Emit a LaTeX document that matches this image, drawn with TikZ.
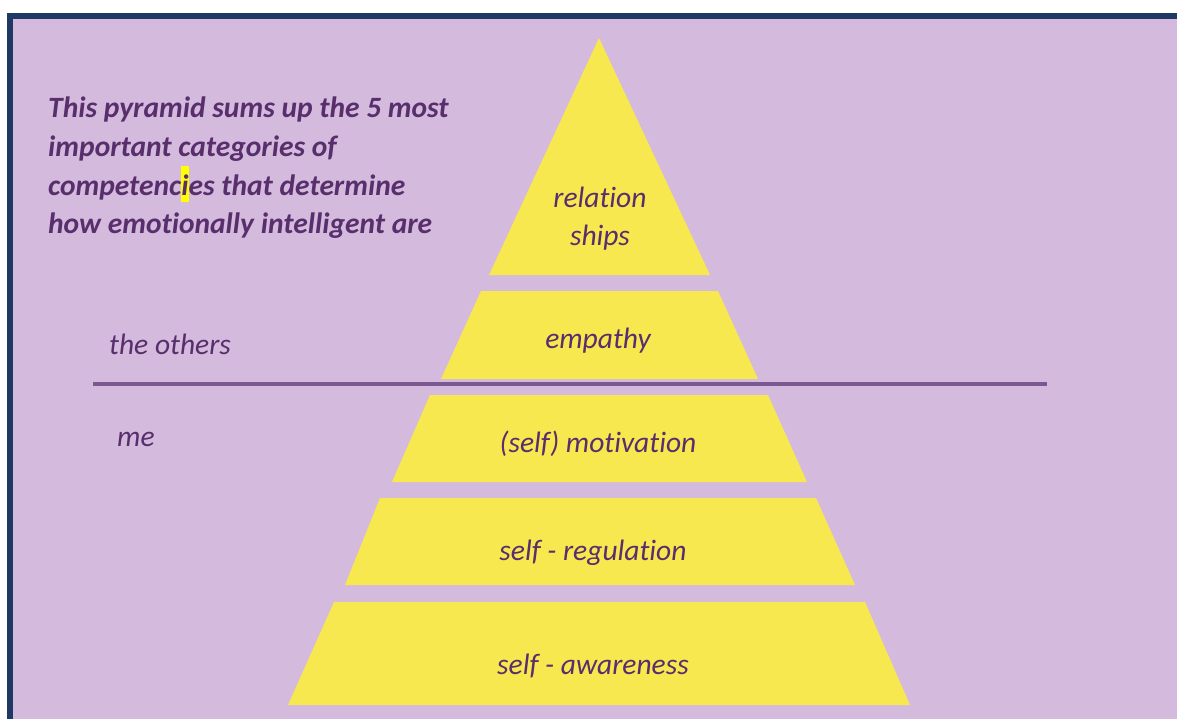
\documentclass[tikz,border=0pt]{standalone}
\usepackage{fontspec}
\setmainfont[Ligatures=NoCommon]{Carlito}
\definecolor{bg}{RGB}{212,186,221}
\definecolor{frame}{RGB}{31,56,100}
\definecolor{pyr}{RGB}{247,232,80}
\definecolor{txt}{RGB}{88,46,108}
\definecolor{sep}{RGB}{124,88,146}
\definecolor{hl}{RGB}{255,255,0}
\begin{document}
\begin{tikzpicture}[x=1pt,y=-1pt,
  layer/.style={fill=pyr,draw=none},
  lab/.style={font=\fontsize{29.5}{38}\selectfont\itshape,text=txt,inner sep=0pt,align=center},
  side/.style={font=\fontsize{29.5}{30}\selectfont\itshape,text=txt,inner sep=0pt,anchor=west}]
\useasboundingbox (0,0) rectangle (1177,719);
\fill[white] (0,0) rectangle (1177,719);
\filldraw[fill=bg,draw=frame,line width=6pt] (10,16.5) rectangle (1200,740);
% pyramid
\path[layer] (599,38) -- (710,275) -- (489,275) -- cycle;
\path[layer] (481,291) -- (718,291) -- (758,379) -- (441,379) -- cycle;
\path[layer] (430,395) -- (768,395) -- (807,482) -- (392,482) -- cycle;
\path[layer] (380,498) -- (816,498) -- (855,585) -- (345,585) -- cycle;
\path[layer] (334,602) -- (865,602) -- (910,705) -- (288,705) -- cycle;
% separator
\coordinate (sepL) at (93,384);
\coordinate (sepR) at (1047,384);
\draw[sep,line width=3.5pt] (sepL) -- (sepR);
% labels
\node[lab] (rel) at (600,218.5) {relation\\ships};
\node[lab] (emp) at (598,341) {empathy};
\node[lab] (mot) at (598,444) {(self) motivation};
\node[lab] (reg) at (593,553) {self - regulation};
\node[lab] (awa) at (593,666) {self - awareness};
\node[side] (oth) at (109,344) {the others};
\node[side] (me) at (117,439) {me};
\node[font=\fontsize{29.5}{38.7}\selectfont\bfseries\itshape,text=txt,inner sep=0pt,anchor=north west,align=left] (head) at (48,97)
 {This pyramid sums up the 5 most\\important categories of\\competenc{\setlength{\fboxsep}{0pt}\colorbox{hl}{\rule[-7pt]{0pt}{36pt}i}}es that determine\\how emotionally intelligent are};
\end{tikzpicture}
\end{document}
